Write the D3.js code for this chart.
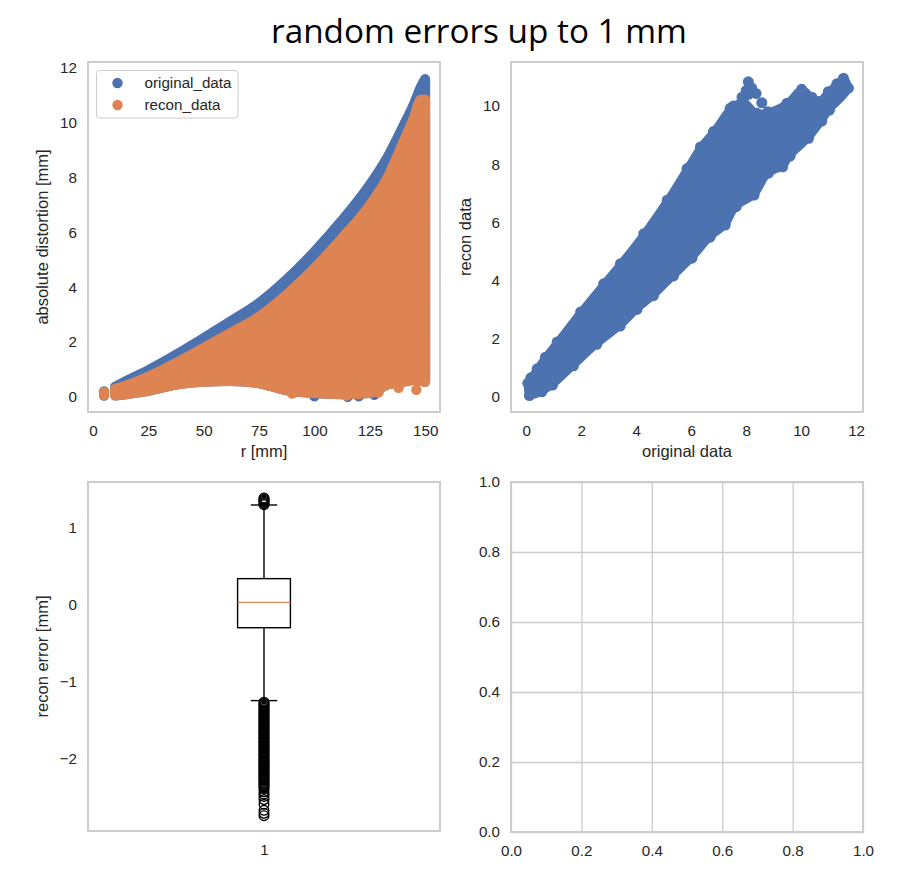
<!DOCTYPE html>
<html>
<head>
<meta charset="utf-8">
<script src="https://cdn.jsdelivr.net/npm/d3@7"></script>
<style>
body { margin: 0; background: #fff; }
text { font-family: "Liberation Sans", Arial, sans-serif; fill: #262626; }
</style>
</head>
<body>
<div id="chart"></div>
<script>
// values
// top left: the clouds are given by their outer edge, plus the dots that stick out of it
const rGrid = [10, 15, 25, 37, 50, 62, 75, 87, 100, 112, 125, 133, 140, 145, 148, 150];
const origUpper = [0.37, 0.58, 0.98, 1.52, 2.15, 2.75, 3.43, 4.25, 5.3, 6.4, 7.74, 8.75, 9.86, 10.7, 11.3, 11.6];
const reconUpper = [0.3, 0.42, 0.74, 1.22, 1.79, 2.33, 2.93, 3.7, 4.7, 5.75, 7.0, 8.0, 9.27, 10.2, 10.84, 10.85];
const reconLower = [0.05, 0.1, 0.22, 0.44, 0.55, 0.58, 0.5, 0.25, 0.14, 0.1, 0.14, 0.45, 0.55, 0.62, 0.6, 0.55];
const origDotsR = [5, 5, 100, 115, 120, 127];
const origDotsV = [0.05, 0.2, 0.02, 0.0, 0.02, 0.08];
const reconDotsR = [5, 5, 90, 114.5, 120, 129, 138, 146, 149.5];
const reconDotsV = [0.07, 0.17, 0.12, 0.05, 0.1, 0.17, 0.33, 0.26, 0.56];

// top right: outline of the cloud, going up the upper edge and back down the lower edge
const bandOrig = [0.12, 0.06, 0.17, 0.4, 0.7, 1.13, 1.98, 2.82, 3.43, 4.28, 5.13, 5.85, 6.34, 6.81, 7.42, 7.54, 7.9,
    8.39, 8.79, 9.48, 10.02, 10.39, 10.63, 10.99, 11.3, 11.54, 11.72,
    11.03, 10.75, 10.27, 9.6, 9.33, 8.81, 8.29, 7.64, 7.24, 6.69, 6.03, 5.36, 4.63, 4.03, 3.42, 2.57, 1.72, 0.96, 0.57];
const bandRecon = [0.05, 0.47, 0.66, 0.97, 1.37, 1.89, 2.92, 3.89, 4.58, 5.61, 6.76, 7.85, 8.59, 9.12, 9.92, 10.0, 10.15,
    9.75, 9.8, 10.09, 10.57, 10.3, 10.15, 10.49, 10.76, 10.95, 10.61,
    9.86, 9.48, 8.89, 8.28, 7.91, 7.69, 6.94, 6.54, 5.91, 5.49, 4.77, 4.16, 3.48, 3.01, 2.44, 1.81, 1.07, 0.41, 0.18];
// the few dots that stand apart near x = 8
const blobOrig = [8.08, 8.0, 8.36, 8.57, 8.2, 7.85, 8.08];
const blobRecon = [10.83, 10.53, 10.43, 10.11, 10.62, 10.3, 10.4];

// bottom left: boxplot
const boxStats = [-1.25, -0.3, 0.03, 0.34, 1.3]; // low whisker, q1, median, q3, high whisker
const fliers = [1.305, 1.32, 1.335, 1.35, 1.365, 1.38, 1.39,
    -1.27, -1.285, -1.3, -1.32, -1.335, -1.35, -1.37, -1.385, -1.4, -1.42, -1.435, -1.45, -1.47, -1.485, -1.5,
    -1.52, -1.535, -1.55, -1.57, -1.585, -1.6, -1.62, -1.635, -1.65, -1.67, -1.685, -1.7, -1.72, -1.735, -1.75,
    -1.77, -1.785, -1.8, -1.82, -1.835, -1.85, -1.87, -1.885, -1.9, -1.92, -1.935, -1.95, -1.97, -1.985, -2.0,
    -2.02, -2.035, -2.05, -2.07, -2.085, -2.1, -2.12, -2.135, -2.15, -2.17, -2.185, -2.2, -2.22, -2.235, -2.25,
    -2.27, -2.285, -2.3, -2.32, -2.34, -2.36, -2.38, -2.4, -2.44, -2.47, -2.5, -2.54, -2.6, -2.68, -2.72, -2.75];

const legendLabels = ["original_data", "recon_data"];
const blue = "#4c72b0", orange = "#dd8452";
const dotR = 5.2;

const svg = d3.select("#chart").append("svg")
    .attr("width", 907)
    .attr("height", 886);

svg.append("text")
    .attr("x", 479)
    .attr("y", 43)
    .attr("text-anchor", "middle")
    .style("font-family", "'Open Sans'")
    .style("font-size", "33.3px")
    .style("fill", "#000")
    .text("random errors up to 1 mm");

// one subplot: frame, scales, axes and labels
function addAxes(o) {
    let g = svg.append("g").attr("transform", `translate(${o.left},${o.top})`);
    let x = d3.scaleLinear().domain(o.xDomain).range([0, o.width]);
    let y = d3.scaleLinear().domain(o.yDomain).range([o.height, 0]);

    let xAxis = d3.axisBottom(x).tickValues(o.xTicks).tickSize(o.grid ? -o.height : 0).tickPadding(13);
    let yAxis = d3.axisLeft(y).tickValues(o.yTicks).tickSize(o.grid ? -o.width : 0).tickPadding(11);
    if (o.tickFormat) {
        xAxis.tickFormat(o.tickFormat);
        yAxis.tickFormat(o.tickFormat);
    }

    let xg = g.append("g").attr("transform", `translate(0,${o.height})`).call(xAxis);
    let yg = g.append("g").call(yAxis);
    [xg, yg].forEach(a => {
        a.select(".domain").remove();
        a.selectAll("line").attr("stroke", "#cccccc").attr("stroke-width", 1.3);
        a.selectAll("text").style("font-size", "15.2px").style("font-family", "'Liberation Sans'");
    });

    if (o.xLabel) {
        g.append("text")
            .attr("x", o.width / 2)
            .attr("y", o.height + 45)
            .attr("text-anchor", "middle")
            .style("font-size", "16.5px")
            .text(o.xLabel);
    }
    if (o.yLabel) {
        g.append("text")
            .attr("transform", `translate(${o.yLabelX},${o.height / 2}) rotate(-90)`)
            .attr("text-anchor", "middle")
            .style("font-size", "16.5px")
            .text(o.yLabel);
    }

    let marks = g.append("g");
    g.append("rect")
        .attr("width", o.width)
        .attr("height", o.height)
        .attr("fill", "none")
        .attr("stroke", "#cccccc")
        .attr("stroke-width", 2);

    return {g, marks, x, y};
}

// ---- top left
let a1 = addAxes({
    left: 88, top: 62, width: 352, height: 350,
    xDomain: [-2.25, 156.7], yDomain: [-0.55, 12.22],
    xTicks: [0, 25, 50, 75, 100, 125, 150], yTicks: [0, 2, 4, 6, 8, 10, 12],
    xLabel: "r [mm]", yLabel: "absolute distortion [mm]", yLabelX: -40
});

function drawCloud(ax, upper, dotsR, dotsV, color) {
    let area = d3.area()
        .x((d, i) => ax.x(rGrid[i]))
        .y0((d, i) => ax.y(reconLower[i]))
        .y1((d, i) => ax.y(upper[i]))
        .curve(d3.curveMonotoneX);
    ax.marks.append("path")
        .datum(rGrid)
        .attr("d", area)
        .attr("fill", color)
        .attr("stroke", color)
        .attr("stroke-width", 10)
        .attr("stroke-linejoin", "round");
    ax.marks.selectAll(null)
        .data(dotsR)
        .enter()
        .append("circle")
        .attr("cx", d => ax.x(d))
        .attr("cy", (d, i) => ax.y(dotsV[i]))
        .attr("r", dotR)
        .attr("fill", color);
}
drawCloud(a1, origUpper, origDotsR, origDotsV, blue);
drawCloud(a1, reconUpper, reconDotsR, reconDotsV, orange);

// legend
let legend = a1.g.append("g").attr("transform", "translate(8.5,8.5)");
legend.append("rect")
    .attr("width", 141.5)
    .attr("height", 47.5)
    .attr("rx", 3)
    .attr("fill", "#fff")
    .attr("stroke", "#cccccc");
legendLabels.forEach((d, i) => {
    legend.append("circle")
        .attr("cx", 21)
        .attr("cy", 12.5 + i * 22)
        .attr("r", dotR)
        .attr("fill", i == 0 ? blue : orange);
    legend.append("text")
        .attr("x", 48)
        .attr("y", 17.5 + i * 22)
        .style("font-size", "15.2px")
        .text(d);
});

// ---- top right
let a2 = addAxes({
    left: 511, top: 62, width: 352, height: 350,
    xDomain: [-0.55, 12.25], yDomain: [-0.515, 11.51],
    xTicks: [0, 2, 4, 6, 8, 10, 12], yTicks: [0, 2, 4, 6, 8, 10],
    xLabel: "original data", yLabel: "recon data", yLabelX: -40
});
let bandLine = d3.line()
    .x((d, i) => a2.x(bandOrig[i]))
    .y((d, i) => a2.y(bandRecon[i]))
    .curve(d3.curveCatmullRomClosed.alpha(0.5));
// thinner stroke than the dots, so the dots show as small bumps along the edge
a2.marks.append("path")
    .datum(bandOrig)
    .attr("d", bandLine)
    .attr("fill", blue)
    .attr("stroke", blue)
    .attr("stroke-width", 7)
    .attr("stroke-linejoin", "round");
a2.marks.selectAll(".band")
    .data(bandOrig)
    .enter()
    .append("circle")
    .attr("class", "band")
    .attr("cx", d => a2.x(d))
    .attr("cy", (d, i) => a2.y(bandRecon[i]))
    .attr("r", 5.5)
    .attr("fill", blue);
a2.marks.selectAll(".blob")
    .data(blobOrig)
    .enter()
    .append("circle")
    .attr("class", "blob")
    .attr("cx", d => a2.x(d))
    .attr("cy", (d, i) => a2.y(blobRecon[i]))
    .attr("r", 5.5)
    .attr("fill", blue);

// ---- bottom left
let a3 = addAxes({
    left: 88, top: 482, width: 352, height: 349,
    xDomain: [0.5, 1.5], yDomain: [-2.95, 1.6],
    xTicks: [1], yTicks: [-2, -1, 0, 1],
    tickFormat: d3.format("d"),
    yLabel: "recon error [mm]", yLabelX: -40
});
let boxHalf = 0.075, capHalf = 0.0375;
let bx = a3.x, by = a3.y;
function boxLine(x1, y1, x2, y2, color) {
    a3.marks.append("line")
        .attr("x1", bx(x1)).attr("x2", bx(x2))
        .attr("y1", by(y1)).attr("y2", by(y2))
        .attr("stroke", color || "#000")
        .attr("stroke-width", 1.4);
}
boxLine(1, boxStats[3], 1, boxStats[4]);
boxLine(1, boxStats[0], 1, boxStats[1]);
boxLine(1 - capHalf, boxStats[4], 1 + capHalf, boxStats[4]);
boxLine(1 - capHalf, boxStats[0], 1 + capHalf, boxStats[0]);
a3.marks.append("rect")
    .attr("x", bx(1 - boxHalf))
    .attr("y", by(boxStats[3]))
    .attr("width", bx(1 + boxHalf) - bx(1 - boxHalf))
    .attr("height", by(boxStats[1]) - by(boxStats[3]))
    .attr("fill", "none")
    .attr("stroke", "#000")
    .attr("stroke-width", 1.4);
boxLine(1 - boxHalf, boxStats[2], 1 + boxHalf, boxStats[2], orange);
a3.marks.selectAll(".flier")
    .data(fliers)
    .enter()
    .append("circle")
    .attr("class", "flier")
    .attr("cx", bx(1))
    .attr("cy", d => by(d))
    .attr("r", 4.8)
    .attr("fill", "none")
    .attr("stroke", "#000")
    .attr("stroke-width", 1.4);

// ---- bottom right, empty with grid
addAxes({
    left: 511, top: 482, width: 352, height: 350,
    xDomain: [0, 1], yDomain: [0, 1],
    xTicks: [0, 0.2, 0.4, 0.6, 0.8, 1], yTicks: [0, 0.2, 0.4, 0.6, 0.8, 1],
    tickFormat: d3.format(".1f"),
    grid: true
});
</script>
</body>
</html>
